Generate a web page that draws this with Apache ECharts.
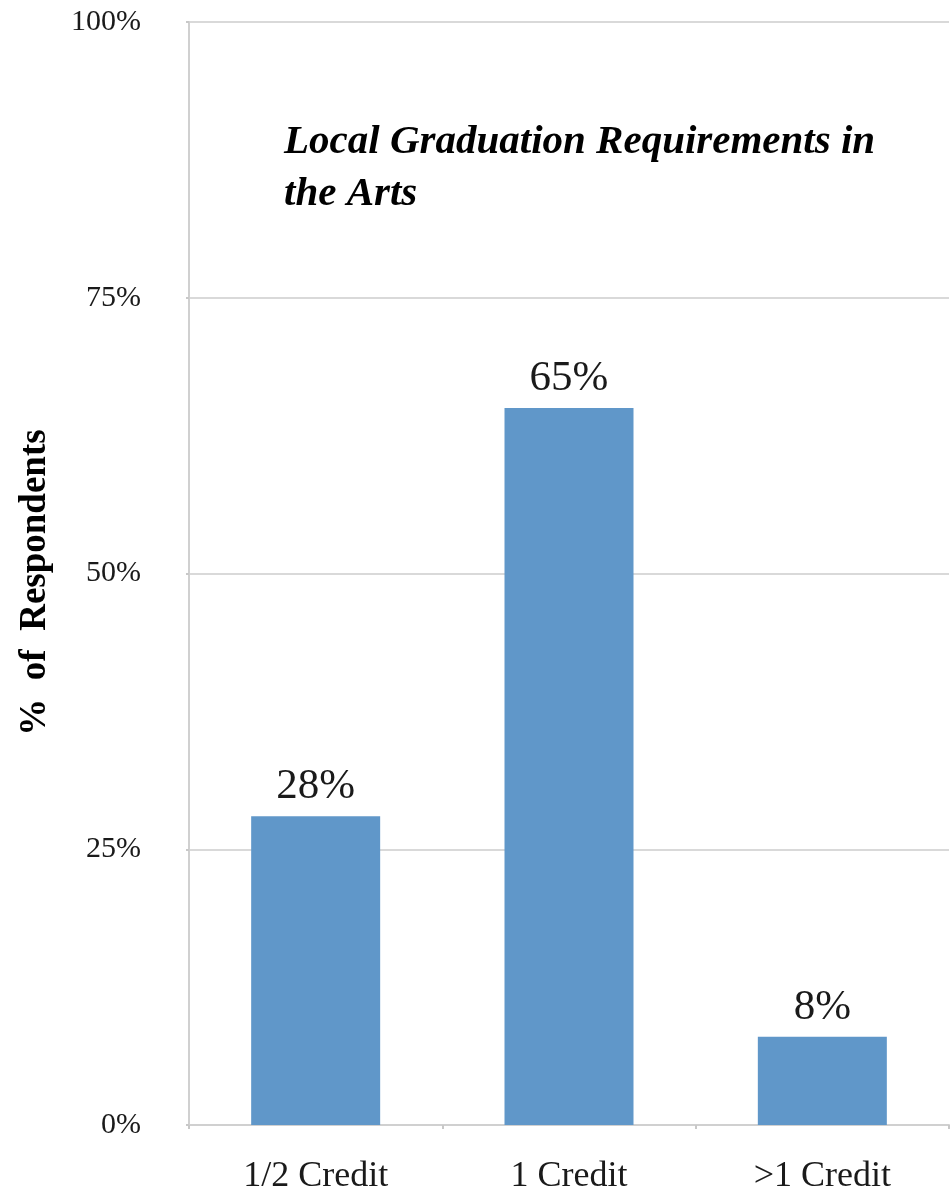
<!DOCTYPE html>
<html>
<head>
<meta charset="utf-8">
<script src="https://cdn.jsdelivr.net/npm/echarts@6/dist/echarts.min.js"></script>
<style>
html,body{margin:0;padding:0;background:#fff;}
#chart{width:950px;height:1196px;}
</style>
</head>
<body>
<div id="chart"></div>
<script>
const categories = ['1/2 Credit', '1 Credit', '>1 Credit'];
const values = [28, 65, 8];
const yTicks = [0, 25, 50, 75, 100];
const titleText = 'Local Graduation Requirements in\nthe Arts';
const yAxisName = '%  of  Respondents';

const chart = echarts.init(document.getElementById('chart'));
chart.setOption({
  animation: false,
  backgroundColor: '#ffffff',
  title: {
    text: titleText,
    left: 279,
    top: 111,
    textStyle: {
      fontFamily: 'Liberation Serif',
      fontStyle: 'italic',
      fontWeight: 'bold',
      fontSize: 41,
      lineHeight: 52,
      color: '#000'
    }
  },
  grid: { left: 189, right: 1, top: 22, bottom: 71 },
  xAxis: {
    type: 'category',
    data: categories,
    axisLine: { show: true, lineStyle: { color: '#d0d0d0', width: 2 } },
    axisTick: { show: true, alignWithLabel: false, length: 4, lineStyle: { color: '#c8c8c8', width: 2 } },
    axisLabel: {
      margin: 34,
      fontFamily: 'Liberation Serif',
      fontSize: 36,
      color: '#1a1a1a'
    }
  },
  yAxis: {
    type: 'value',
    min: yTicks[0],
    max: yTicks[yTicks.length - 1],
    interval: 25,
    name: yAxisName,
    nameLocation: 'middle',
    nameGap: 135,
    nameTextStyle: {
      fontFamily: 'Liberation Serif',
      fontWeight: 'bold',
      fontSize: 37,
      padding: [0, 18, 0, 0],
      color: '#000'
    },
    axisLine: { show: true, lineStyle: { color: '#d0d0d0', width: 2 } },
    axisTick: { show: true, length: 3, lineStyle: { color: '#c8c8c8', width: 2 } },
    splitLine: { show: true, lineStyle: { color: '#d9d9d9', width: 2 } },
    axisLabel: {
      margin: 48,
      formatter: '{value}%',
      fontFamily: 'Liberation Serif',
      fontSize: 30,
      color: '#1a1a1a'
    }
  },
  series: [{
    type: 'bar',
    data: values,
    barWidth: 129,
    itemStyle: { color: '#6097c9' },
    label: {
      show: true,
      position: 'top',
      distance: 8,
      formatter: '{c}%',
      fontFamily: 'Liberation Serif',
      fontSize: 43,
      color: '#1a1a1a'
    }
  }]
});
</script>
</body>
</html>
